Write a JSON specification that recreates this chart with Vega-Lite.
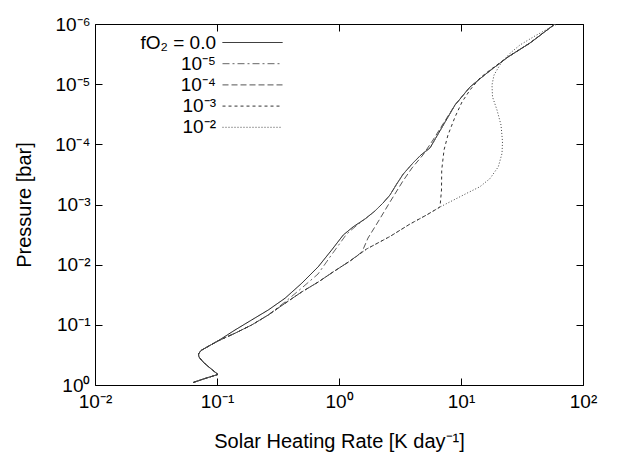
{
  "$schema": "https://vega.github.io/schema/vega-lite/v6.json",
  "width": 488,
  "height": 361,
  "autosize": {"type": "none"},
  "padding": {"left": 95, "top": 24, "right": 53, "bottom": 68},
  "background": "white",
  "config": {
    "view": {"stroke": "#000", "strokeWidth": 1},
    "font": "Liberation Sans",
    "axis": {"grid": false, "domain": false, "tickColor": "#000", "tickWidth": 1, "labelColor": "#000", "labelFont": "Liberation Sans", "labelFontSize": 19, "titleFont": "Liberation Sans", "titleFontSize": 20, "titleFontWeight": "normal", "titleColor": "#000"},
    "legend": {"orient": "none", "legendX": 148, "legendY": 9, "title": null, "symbolType": "M-6,0H6", "symbolSize": 100, "symbolStrokeWidth": 1, "rowPadding": 1.2, "labelAlign": "right", "labelOffset": -46, "labelFont": "Liberation Sans", "labelFontSize": 19, "labelColor": "#000", "padding": 0, "labelLimit": 300}
  },
  "data": {"values": [
    {"s":"fO₂ = 0.0","i":1,"x":0.0639,"p":0.908},{"s":"fO₂ = 0.0","i":2,"x":0.0797,"p":0.78},{"s":"fO₂ = 0.0","i":3,"x":0.1019,"p":0.668},{"s":"fO₂ = 0.0","i":4,"x":0.0876,"p":0.521},{"s":"fO₂ = 0.0","i":5,"x":0.0768,"p":0.414},{"s":"fO₂ = 0.0","i":6,"x":0.0712,"p":0.342},{"s":"fO₂ = 0.0","i":7,"x":0.0705,"p":0.305},{"s":"fO₂ = 0.0","i":8,"x":0.0739,"p":0.267},{"s":"fO₂ = 0.0","i":9,"x":0.0844,"p":0.229},{"s":"fO₂ = 0.0","i":10,"x":0.1019,"p":0.185},
    {"s":"fO₂ = 0.0","i":11,"x":0.1404,"p":0.122},{"s":"fO₂ = 0.0","i":12,"x":0.1925,"p":0.0829},{"s":"fO₂ = 0.0","i":13,"x":0.2634,"p":0.0566},{"s":"fO₂ = 0.0","i":14,"x":0.3609,"p":0.0362},{"s":"fO₂ = 0.0","i":15,"x":0.4946,"p":0.0204},{"s":"fO₂ = 0.0","i":16,"x":0.6765,"p":0.0108},{"s":"fO₂ = 0.0","i":17,"x":0.871,"p":0.0057},{"s":"fO₂ = 0.0","i":18,"x":1.084,"p":0.00321},{"s":"fO₂ = 0.0","i":19,"x":1.31,"p":0.00234},{"s":"fO₂ = 0.0","i":20,"x":1.634,"p":0.00174},{"s":"fO₂ = 0.0","i":21,"x":1.973,"p":0.00128},{"s":"fO₂ = 0.0","i":22,"x":2.295,"p":0.000944},{"s":"fO₂ = 0.0","i":23,"x":2.618,"p":0.000695},{"s":"fO₂ = 0.0","i":24,"x":2.972,"p":0.000456},{"s":"fO₂ = 0.0","i":25,"x":3.365,"p":0.000311},{"s":"fO₂ = 0.0","i":26,"x":4.043,"p":0.000204},{"s":"fO₂ = 0.0","i":27,"x":4.699,"p":0.00015},{"s":"fO₂ = 0.0","i":28,"x":5.57,"p":0.000115},{"s":"fO₂ = 0.0","i":29,"x":6.858,"p":0.0000556},{"s":"fO₂ = 0.0","i":30,"x":8.93,"p":0.0000222},{"s":"fO₂ = 0.0","i":31,"x":11.85,"p":0.00001114},{"s":"fO₂ = 0.0","i":32,"x":16.34,"p":0.00000652},{"s":"fO₂ = 0.0","i":33,"x":24.28,"p":0.00000353},{"s":"fO₂ = 0.0","i":34,"x":36.78,"p":0.00000207},{"s":"fO₂ = 0.0","i":35,"x":58.95,"p":0.000001},

    {"s":"10⁻⁵","i":1,"x":0.0639,"p":0.908},{"s":"10⁻⁵","i":2,"x":0.0797,"p":0.78},{"s":"10⁻⁵","i":3,"x":0.1019,"p":0.668},{"s":"10⁻⁵","i":4,"x":0.0876,"p":0.521},{"s":"10⁻⁵","i":5,"x":0.0768,"p":0.414},{"s":"10⁻⁵","i":6,"x":0.0712,"p":0.342},{"s":"10⁻⁵","i":7,"x":0.0705,"p":0.305},{"s":"10⁻⁵","i":8,"x":0.0739,"p":0.267},{"s":"10⁻⁵","i":9,"x":0.0844,"p":0.229},{"s":"10⁻⁵","i":10,"x":0.1019,"p":0.185},
    {"s":"10⁻⁵","i":11,"x":0.1404,"p":0.138},{"s":"10⁻⁵","i":12,"x":0.1925,"p":0.1005},{"s":"10⁻⁵","i":13,"x":0.2634,"p":0.0685},{"s":"10⁻⁵","i":14,"x":0.3609,"p":0.0417},{"s":"10⁻⁵","i":15,"x":0.4946,"p":0.0245},{"s":"10⁻⁵","i":16,"x":0.673,"p":0.0143},{"s":"10⁻⁵","i":17,"x":0.844,"p":0.00745},{"s":"10⁻⁵","i":18,"x":1.156,"p":0.00309},{"s":"10⁻⁵","i":19,"x":1.378,"p":0.00228},{"s":"10⁻⁵","i":20,"x":1.634,"p":0.00174},{"s":"10⁻⁵","i":21,"x":1.973,"p":0.00128},{"s":"10⁻⁵","i":22,"x":2.295,"p":0.000944},{"s":"10⁻⁵","i":23,"x":2.618,"p":0.000695},{"s":"10⁻⁵","i":24,"x":2.972,"p":0.000456},{"s":"10⁻⁵","i":25,"x":3.365,"p":0.000311},{"s":"10⁻⁵","i":26,"x":4.043,"p":0.000204},{"s":"10⁻⁵","i":27,"x":4.699,"p":0.00015},{"s":"10⁻⁵","i":28,"x":5.57,"p":0.000115},{"s":"10⁻⁵","i":29,"x":6.858,"p":0.0000556},{"s":"10⁻⁵","i":30,"x":8.93,"p":0.0000222},{"s":"10⁻⁵","i":31,"x":11.85,"p":0.00001114},{"s":"10⁻⁵","i":32,"x":16.34,"p":0.00000652},{"s":"10⁻⁵","i":33,"x":24.28,"p":0.00000353},{"s":"10⁻⁵","i":34,"x":36.78,"p":0.00000207},{"s":"10⁻⁵","i":35,"x":58.95,"p":0.000001},

    {"s":"10⁻⁴","i":1,"x":0.0639,"p":0.908},{"s":"10⁻⁴","i":2,"x":0.0797,"p":0.78},{"s":"10⁻⁴","i":3,"x":0.1019,"p":0.668},{"s":"10⁻⁴","i":4,"x":0.0876,"p":0.521},{"s":"10⁻⁴","i":5,"x":0.0768,"p":0.414},{"s":"10⁻⁴","i":6,"x":0.0712,"p":0.342},{"s":"10⁻⁴","i":7,"x":0.0705,"p":0.305},{"s":"10⁻⁴","i":8,"x":0.0739,"p":0.267},{"s":"10⁻⁴","i":9,"x":0.0844,"p":0.229},{"s":"10⁻⁴","i":10,"x":0.1019,"p":0.185},
    {"s":"10⁻⁴","i":11,"x":0.1404,"p":0.138},{"s":"10⁻⁴","i":12,"x":0.1925,"p":0.1005},{"s":"10⁻⁴","i":13,"x":0.2634,"p":0.0685},{"s":"10⁻⁴","i":14,"x":0.3609,"p":0.0439},{"s":"10⁻⁴","i":15,"x":0.4946,"p":0.0284},{"s":"10⁻⁴","i":16,"x":0.6765,"p":0.0194},{"s":"10⁻⁴","i":17,"x":0.893,"p":0.01325},{"s":"10⁻⁴","i":18,"x":1.231,"p":0.00869},{"s":"10⁻⁴","i":19,"x":1.543,"p":0.00615},{"s":"10⁻⁴","i":20,"x":1.729,"p":0.00361},{"s":"10⁻⁴","i":21,"x":2.087,"p":0.00195},{"s":"10⁻⁴","i":22,"x":2.618,"p":0.000908},{"s":"10⁻⁴","i":23,"x":3.346,"p":0.000406},{"s":"10⁻⁴","i":24,"x":3.967,"p":0.000247},{"s":"10⁻⁴","i":25,"x":4.88,"p":0.00015},{"s":"10⁻⁴","i":26,"x":5.896,"p":0.0000847},{"s":"10⁻⁴","i":27,"x":7.12,"p":0.0000459},{"s":"10⁻⁴","i":28,"x":8.93,"p":0.0000222},{"s":"10⁻⁴","i":29,"x":11.85,"p":0.00001114},{"s":"10⁻⁴","i":30,"x":16.34,"p":0.00000652},{"s":"10⁻⁴","i":31,"x":24.28,"p":0.00000353},{"s":"10⁻⁴","i":32,"x":36.78,"p":0.00000207},{"s":"10⁻⁴","i":33,"x":58.95,"p":0.000001},

    {"s":"10⁻³","i":1,"x":0.0639,"p":0.908},{"s":"10⁻³","i":2,"x":0.0797,"p":0.78},{"s":"10⁻³","i":3,"x":0.1019,"p":0.668},{"s":"10⁻³","i":4,"x":0.0876,"p":0.521},{"s":"10⁻³","i":5,"x":0.0768,"p":0.414},{"s":"10⁻³","i":6,"x":0.0712,"p":0.342},{"s":"10⁻³","i":7,"x":0.0705,"p":0.305},{"s":"10⁻³","i":8,"x":0.0739,"p":0.267},{"s":"10⁻³","i":9,"x":0.0844,"p":0.229},{"s":"10⁻³","i":10,"x":0.1019,"p":0.185},
    {"s":"10⁻³","i":11,"x":0.1404,"p":0.138},{"s":"10⁻³","i":12,"x":0.1925,"p":0.1005},{"s":"10⁻³","i":13,"x":0.2634,"p":0.0685},{"s":"10⁻³","i":14,"x":0.3609,"p":0.0439},{"s":"10⁻³","i":15,"x":0.4946,"p":0.0284},{"s":"10⁻³","i":16,"x":0.6765,"p":0.0194},{"s":"10⁻³","i":17,"x":0.893,"p":0.01325},{"s":"10⁻³","i":18,"x":1.231,"p":0.00869},{"s":"10⁻³","i":19,"x":1.687,"p":0.00548},{"s":"10⁻³","i":20,"x":2.618,"p":0.0034},{"s":"10⁻³","i":21,"x":3.819,"p":0.00211},{"s":"10⁻³","i":22,"x":5.234,"p":0.00149},{"s":"10⁻³","i":23,"x":6.729,"p":0.0011},{"s":"10⁻³","i":24,"x":6.92,"p":0.000574},{"s":"10⁻³","i":25,"x":6.95,"p":0.000267},{"s":"10⁻³","i":26,"x":7.26,"p":0.000124},{"s":"10⁻³","i":27,"x":7.82,"p":0.00007},{"s":"10⁻³","i":28,"x":8.93,"p":0.0000352},{"s":"10⁻³","i":29,"x":10.19,"p":0.0000198},{"s":"10⁻³","i":30,"x":11.85,"p":0.0000125},{"s":"10⁻³","i":31,"x":14.31,"p":0.00000788},{"s":"10⁻³","i":32,"x":17.29,"p":0.00000582},{"s":"10⁻³","i":33,"x":24.28,"p":0.00000353},{"s":"10⁻³","i":34,"x":36.78,"p":0.00000207},{"s":"10⁻³","i":35,"x":58.95,"p":0.000001},

    {"s":"10⁻²","i":1,"x":0.0639,"p":0.908},{"s":"10⁻²","i":2,"x":0.0797,"p":0.78},{"s":"10⁻²","i":3,"x":0.1019,"p":0.668},{"s":"10⁻²","i":4,"x":0.0876,"p":0.521},{"s":"10⁻²","i":5,"x":0.0768,"p":0.414},{"s":"10⁻²","i":6,"x":0.0712,"p":0.342},{"s":"10⁻²","i":7,"x":0.0705,"p":0.305},{"s":"10⁻²","i":8,"x":0.0739,"p":0.267},{"s":"10⁻²","i":9,"x":0.0844,"p":0.229},{"s":"10⁻²","i":10,"x":0.1019,"p":0.185},
    {"s":"10⁻²","i":11,"x":0.1404,"p":0.138},{"s":"10⁻²","i":12,"x":0.1925,"p":0.1005},{"s":"10⁻²","i":13,"x":0.2634,"p":0.0685},{"s":"10⁻²","i":14,"x":0.3609,"p":0.0439},{"s":"10⁻²","i":15,"x":0.4946,"p":0.0284},{"s":"10⁻²","i":16,"x":0.6765,"p":0.0194},{"s":"10⁻²","i":17,"x":0.893,"p":0.01325},{"s":"10⁻²","i":18,"x":1.231,"p":0.00869},{"s":"10⁻²","i":19,"x":1.687,"p":0.00548},{"s":"10⁻²","i":20,"x":2.618,"p":0.0034},{"s":"10⁻²","i":21,"x":3.819,"p":0.00211},{"s":"10⁻²","i":22,"x":5.234,"p":0.00149},{"s":"10⁻²","i":23,"x":6.729,"p":0.0011},{"s":"10⁻²","i":24,"x":11.13,"p":0.000652},{"s":"10⁻²","i":25,"x":14.31,"p":0.000506},{"s":"10⁻²","i":26,"x":17.29,"p":0.00037},{"s":"10⁻²","i":27,"x":20.22,"p":0.000236},{"s":"10⁻²","i":28,"x":21.69,"p":0.000141},{"s":"10⁻²","i":29,"x":21.89,"p":0.0000904},{"s":"10⁻²","i":30,"x":21.28,"p":0.0000478},{"s":"10⁻²","i":31,"x":19.73,"p":0.0000269},{"s":"10⁻²","i":32,"x":18.13,"p":0.0000163},{"s":"10⁻²","i":33,"x":17.95,"p":0.0000103},{"s":"10⁻²","i":34,"x":18.64,"p":0.00000705},{"s":"10⁻²","i":35,"x":21.28,"p":0.00000445},{"s":"10⁻²","i":36,"x":25.22,"p":0.00000307},{"s":"10⁻²","i":37,"x":30.45,"p":0.00000223},{"s":"10⁻²","i":38,"x":41.74,"p":0.00000152},{"s":"10⁻²","i":39,"x":61.2,"p":0.000001}
  ]},
  "layer": [
    {
      "mark": {"type": "line", "strokeWidth": 1, "clip": true},
      "encoding": {
        "x": {"field": "x", "type": "quantitative",
          "scale": {"type": "log", "domain": [0.01, 100], "nice": false},
          "axis": {"orient": "bottom", "values": [0.01, 0.1, 1, 10, 100], "tickSize": -7, "labelPadding": 14, "labelBaseline": "top", "labelFlush": false,
            "labelExpr": "['10⁻⁶','10⁻⁵','10⁻⁴','10⁻³','10⁻²','10⁻¹','10⁰','10¹','10²'][round(log(datum.value)/LN10)+6]",
            "title": "Solar Heating Rate [K day⁻¹]", "titleY": 62, "titleBaseline": "alphabetic"}},
        "y": {"field": "p", "type": "quantitative",
          "scale": {"type": "log", "domain": [0.000001, 1], "nice": false, "reverse": true},
          "axis": {"orient": "left", "values": [0.000001, 0.00001, 0.0001, 0.001, 0.01, 0.1, 1], "tickSize": -7, "labelPadding": 12, "labelFlush": false,
            "labelExpr": "['10⁻⁶','10⁻⁵','10⁻⁴','10⁻³','10⁻²','10⁻¹','10⁰','10¹','10²'][round(log(datum.value)/LN10)+6]",
            "title": "Pressure [bar]", "titleX": -65, "titleBaseline": "alphabetic"}},
        "order": {"field": "i", "type": "quantitative"},
        "color": {"field": "s", "type": "nominal",
          "scale": {"domain": ["fO₂ = 0.0", "10⁻⁵", "10⁻⁴", "10⁻³", "10⁻²"], "range": ["#000000", "#666666", "#555555", "#333333", "#444444"]},
          "legend": {"title": null}},
        "strokeDash": {"field": "s", "type": "nominal",
          "scale": {"domain": ["fO₂ = 0.0", "10⁻⁵", "10⁻⁴", "10⁻³", "10⁻²"], "range": [[1, 0], [7, 3, 2, 3], [6, 3], [3, 3], [1, 2]]},
          "legend": {"title": null}}
      }
    },
    {
      "mark": {"type": "line", "strokeOpacity": 0, "clip": true},
      "encoding": {
        "x": {"field": "x", "type": "quantitative",
          "scale": {"type": "log", "domain": [0.01, 100], "nice": false},
          "axis": {"orient": "top", "values": [0.01, 0.1, 1, 10, 100], "tickSize": -7, "labels": false, "title": null}},
        "y": {"field": "p", "type": "quantitative",
          "scale": {"type": "log", "domain": [0.000001, 1], "nice": false, "reverse": true},
          "axis": {"orient": "right", "values": [0.000001, 0.00001, 0.0001, 0.001, 0.01, 0.1, 1], "tickSize": -7, "labels": false, "title": null}},
        "detail": {"field": "s", "type": "nominal"},
        "order": {"field": "i", "type": "quantitative"}
      }
    }
  ],
  "resolve": {"axis": {"x": "independent", "y": "independent"}}
}
